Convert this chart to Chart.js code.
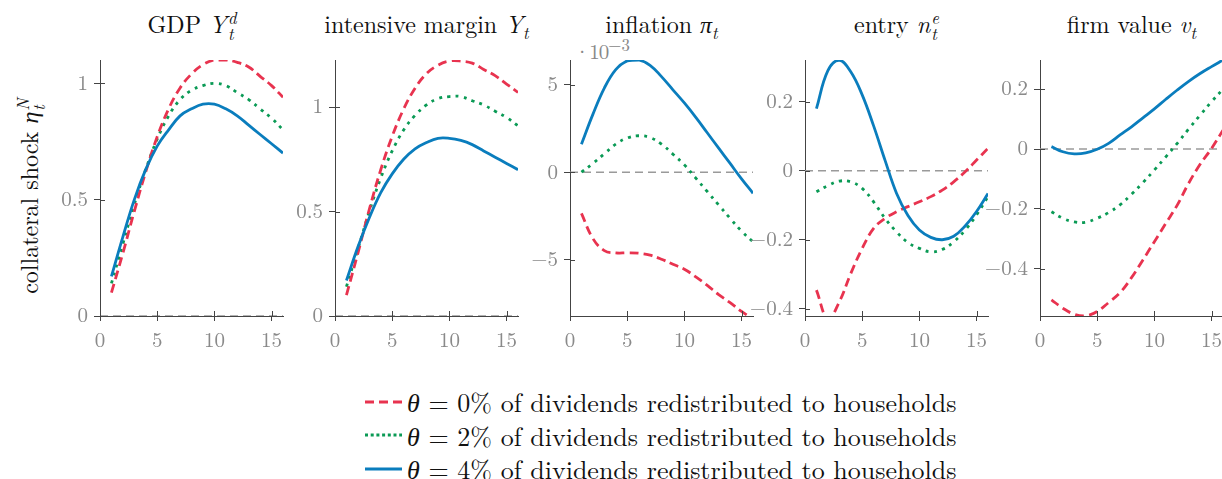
<!DOCTYPE html>
<html>
<head>
<meta charset="utf-8">
<script src="https://cdn.jsdelivr.net/npm/chart.js@4.4.1/dist/chart.umd.min.js"></script>
<style>
  html, body { margin: 0; padding: 0; background: #fff; overflow: hidden; }
  #wrap { position: relative; width: 1222px; height: 479px; font-family: "Latin Modern Roman", "Liberation Serif", serif; }
  canvas { position: absolute; }
  .title { position: absolute; top: 8px; width: 240px; text-align: center; font-size: 24px; line-height: 30px; color: #111; white-space: nowrap; }
  .ss { display: inline-block; vertical-align: -0.42em; line-height: 0.95; font-size: 0.7em; text-align: left; margin-left: 1px; }
  .ss span { display: block; }
  sub { font-size: 0.7em; }
  .gr { font-family: "Liberation Serif", serif; font-style: italic; }
  .ylab { position: absolute; left: 29px; top: 196px; transform: translate(-50%, -50%) rotate(-90deg); font-size: 24px; color: #111; white-space: nowrap; }
  .scale { position: absolute; left: 574px; top: 32px; font-size: 21px; line-height: 24px; color: #888; white-space: nowrap; letter-spacing: -1px; }
  .scale sup { font-size: 0.8em; vertical-align: 0.45em; letter-spacing: 0; }
  .legend { position: absolute; left: 365px; top: 385px; font-size: 26px; color: #111; }
  .legend div { height: 33.5px; display: flex; align-items: center; white-space: nowrap; }
  .legend svg { margin-right: 5px; }
</style>
</head>
<body>
<div id="wrap">
  <div class="ylab">collateral shock <i class="gr">η</i><span class="ss"><span><i>N</i></span><span><i>t</i></span></span></div>

  <div class="title" style="left:72px">GDP <i>Y</i><span class="ss"><span><i>d</i></span><span><i>t</i></span></span></div>
  <div class="title" style="left:306.5px">intensive margin <i>Y<sub>t</sub></i></div>
  <div class="title" style="left:541.5px">inflation <i class="gr">π</i><i><sub>t</sub></i></div>
  <div class="title" style="left:776.5px">entry <i>n</i><span class="ss"><span><i>e</i></span><span><i>t</i></span></span></div>
  <div class="title" style="left:1011.5px">firm value <i>v<sub>t</sub></i></div>
  <div class="scale">·10<sup>−3</sup></div>

  <canvas id="gdp"></canvas>
  <canvas id="intensive"></canvas>
  <canvas id="inflation"></canvas>
  <canvas id="entry"></canvas>
  <canvas id="firm"></canvas>

  <div class="legend">
    <div><svg width="37" height="6"><line x1="0" y1="3" x2="37" y2="3" stroke="#e8334f" stroke-width="3" stroke-dasharray="9,5"/></svg><span><i class="gr">θ</i> = 0% of dividends redistributed to households</span></div>
    <div><svg width="37" height="6"><line x1="0" y1="3" x2="37" y2="3" stroke="#0a9a55" stroke-width="3" stroke-dasharray="3,2.7"/></svg><span><i class="gr">θ</i> = 2% of dividends redistributed to households</span></div>
    <div><svg width="37" height="6"><line x1="0" y1="3" x2="37" y2="3" stroke="#0a7dbd" stroke-width="3"/></svg><span><i class="gr">θ</i> = 4% of dividends redistributed to households</span></div>
  </div>
</div>

<script>
// horizon (quarters)
const periods = [1, 2, 3, 4, 5, 6, 7, 8, 9, 10, 11, 12, 13, 14, 15, 16];
const xTicks = [0, 5, 10, 15];

// GDP Y_t^d
const gdp0 = [0.10, 0.27, 0.45, 0.62, 0.77, 0.89, 0.98, 1.04, 1.08, 1.10, 1.10, 1.09, 1.07, 1.03, 0.99, 0.94];
const gdp2 = [0.14, 0.31, 0.48, 0.63, 0.76, 0.86, 0.93, 0.97, 0.99, 1.00, 0.99, 0.96, 0.93, 0.89, 0.85, 0.80];
const gdp4 = [0.17, 0.34, 0.50, 0.63, 0.73, 0.80, 0.86, 0.89, 0.91, 0.91, 0.89, 0.86, 0.82, 0.78, 0.74, 0.70];

// intensive margin Y_t
const intensive0 = [0.10, 0.30, 0.51, 0.70, 0.86, 0.99, 1.09, 1.16, 1.20, 1.22, 1.22, 1.21, 1.18, 1.15, 1.11, 1.07];
const intensive2 = [0.14, 0.32, 0.50, 0.66, 0.79, 0.89, 0.96, 1.01, 1.04, 1.05, 1.05, 1.03, 1.01, 0.98, 0.95, 0.91];
const intensive4 = [0.17, 0.33, 0.47, 0.59, 0.68, 0.75, 0.80, 0.83, 0.85, 0.85, 0.84, 0.82, 0.79, 0.76, 0.73, 0.70];

// inflation pi_t (x 10^-3)
const inflation0 = [-2.35, -3.78, -4.47, -4.6, -4.6, -4.62, -4.73, -4.96, -5.25, -5.53, -5.97, -6.45, -6.98, -7.44, -7.94, -8.36];
const inflation2 = [0.0, 0.5, 1.05, 1.6, 1.95, 2.08, 1.98, 1.6, 1.03, 0.42, -0.34, -1.1, -1.87, -2.63, -3.36, -3.97];
const inflation4 = [1.6, 3.3, 4.8, 5.85, 6.35, 6.4, 6.1, 5.45, 4.7, 3.95, 3.13, 2.25, 1.37, 0.5, -0.38, -1.2];

// entry n_t^e
const entry0 = [-0.346, -0.43, -0.38, -0.298, -0.225, -0.167, -0.138, -0.119, -0.104, -0.09, -0.075, -0.056, -0.032, -0.003, 0.031, 0.065];
const entry2 = [-0.061, -0.043, -0.03, -0.032, -0.051, -0.09, -0.138, -0.177, -0.208, -0.225, -0.235, -0.228, -0.206, -0.172, -0.128, -0.075];
const entry4 = [0.18, 0.29, 0.32, 0.287, 0.22, 0.13, 0.03, -0.065, -0.13, -0.172, -0.193, -0.2, -0.19, -0.16, -0.118, -0.066];

// firm value v_t
const firm0 = [-0.503, -0.531, -0.551, -0.556, -0.542, -0.512, -0.479, -0.429, -0.37, -0.309, -0.248, -0.187, -0.114, -0.051, 0.002, 0.063];
const firm2 = [-0.209, -0.231, -0.243, -0.244, -0.231, -0.212, -0.186, -0.151, -0.112, -0.07, -0.026, 0.019, 0.067, 0.113, 0.158, 0.2];
const firm4 = [0.008, -0.009, -0.016, -0.013, -0.001, 0.019, 0.047, 0.074, 0.104, 0.134, 0.166, 0.197, 0.226, 0.252, 0.275, 0.297];

const RED = '#e8334f', GREEN = '#0a9a55', BLUE = '#0a7dbd';
const TICK_GREY = '#8a8a8a', AXIS = '#444';
const FONT = 'Latin Modern Roman';

function fmt(v) {
  const s = String(parseFloat(v.toFixed(3)));
  return s.replace('-', '\u2212');
}

// small tick marks pointing into the plot, like the original
const innerTicks = {
  id: 'innerTicks',
  afterDatasetsDraw(chart) {
    const { ctx, chartArea, scales } = chart;
    ctx.save();
    ctx.strokeStyle = AXIS;
    ctx.lineWidth = 1;
    scales.x.ticks.forEach(t => {
      const px = Math.round(scales.x.getPixelForValue(t.value)) + 0.5;
      ctx.beginPath(); ctx.moveTo(px, chartArea.bottom); ctx.lineTo(px, chartArea.bottom - 5); ctx.stroke();
    });
    scales.y.ticks.forEach(t => {
      const py = Math.round(scales.y.getPixelForValue(t.value)) + 0.5;
      ctx.beginPath(); ctx.moveTo(chartArea.left, py); ctx.lineTo(chartArea.left + 5, py); ctx.stroke();
    });
    ctx.restore();
  }
};

function toPoints(values) {
  return values.map((v, i) => ({ x: periods[i], y: v }));
}

function makePanel(id, plotLeft, s0, s2, s4, yMin, yMax, yStep) {
  const yAxisW = 70, padTop = 14, padRight = 4, xAxisH = 44;
  const plotW = 183, plotH = 256, plotTop = 60;
  const canvas = document.getElementById(id);
  const w = yAxisW + plotW + padRight, h = padTop + plotH + xAxisH;
  canvas.width = w; canvas.height = h;
  canvas.style.width = w + 'px'; canvas.style.height = h + 'px';
  canvas.style.left = (plotLeft - yAxisW) + 'px';
  canvas.style.top = (plotTop - padTop) + 'px';

  const chart = new Chart(canvas, {
    type: 'line',
    data: {
      datasets: [
        { data: toPoints(s4), borderColor: BLUE, borderWidth: 2.8, order: 0 },
        { data: toPoints(s0), borderColor: RED, borderWidth: 2.8, borderDash: [9, 5], order: 1 },
        { data: toPoints(s2), borderColor: GREEN, borderWidth: 2.8, borderDash: [3, 5.3], order: 2 },
        { data: [{ x: 0, y: 0 }, { x: 16, y: 0 }], borderColor: '#9a9a9a', borderWidth: 1.5, borderDash: [8, 5], order: 3, tension: 0 }
      ]
    },
    options: {
      responsive: false,
      animation: false,
      devicePixelRatio: 1,
      layout: { padding: { top: padTop, right: padRight, left: 0, bottom: 0 } },
      elements: { point: { radius: 0 }, line: { tension: 0.4, fill: false } },
      plugins: { legend: { display: false }, tooltip: { enabled: false } },
      scales: {
        x: {
          type: 'linear', min: 0, max: 16,
          border: { display: true, color: AXIS, width: 1 },
          grid: { drawOnChartArea: false, drawTicks: true, tickLength: 5, color: AXIS },
          afterFit: s => { s.height = xAxisH; s.paddingLeft = 0; s.paddingRight = 0; },
          afterBuildTicks: s => { s.ticks = xTicks.map(v => ({ value: v })); },
          ticks: { color: TICK_GREY, font: { family: FONT, size: 21 }, padding: 7, maxRotation: 0, callback: fmt }
        },
        y: {
          type: 'linear', min: yMin, max: yMax,
          border: { display: true, color: AXIS, width: 1 },
          grid: { drawOnChartArea: false, drawTicks: true, tickLength: 6, color: AXIS },
          afterFit: s => { s.width = yAxisW; s.paddingTop = 0; s.paddingBottom = 0; },
          ticks: { stepSize: yStep, includeBounds: false, color: TICK_GREY, font: { family: FONT, size: 21 }, padding: 6, callback: fmt }
        }
      }
    },
    plugins: [innerTicks]
  });

  // put the plotting area exactly where the original has it
  const a = chart.chartArea;
  canvas.style.left = (plotLeft - a.left) + 'px';
  canvas.style.top = (plotTop - a.top) + 'px';
}

makePanel('gdp', 100, gdp0, gdp2, gdp4, 0, 1.1, 0.5);
makePanel('intensive', 335, intensive0, intensive2, intensive4, 0, 1.225, 0.5);
makePanel('inflation', 570, inflation0, inflation2, inflation4, -8.2, 6.4, 5);
makePanel('entry', 805, entry0, entry2, entry4, -0.421, 0.321, 0.2);
makePanel('firm', 1040, firm0, firm2, firm4, -0.557, 0.297, 0.2);
</script>
</body>
</html>
